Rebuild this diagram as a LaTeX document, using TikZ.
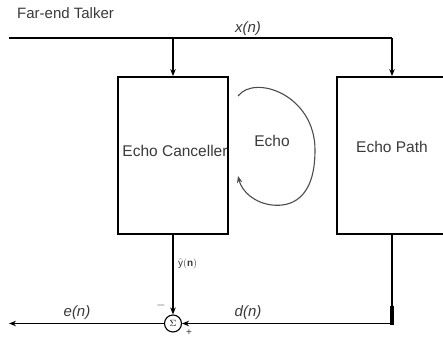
\documentclass[tikz,border=0pt]{standalone}
\usepackage{fontspec}
\setmainfont{Liberation Sans}
\usetikzlibrary{arrows.meta}
\definecolor{txt}{HTML}{3A3A3A}
\begin{document}
\begin{tikzpicture}[x=1pt,y=-1pt,
  >={Stealth[length=7pt,width=5.5pt]},
  wire/.style={line width=1.7pt},
  box/.style={draw, line width=1.8pt, minimum width=110pt, minimum height=157pt, inner sep=0pt},
  boxtext/.style={text=txt, inner sep=0pt, font=\fontsize{15.5}{17}\selectfont},
  lbl/.style={text=txt, font=\fontsize{15}{17}\selectfont\itshape, inner sep=0pt},
  sign/.style={text=txt, inner sep=0pt},
]
\clip (0,0) rectangle (443,337);
\fill[white] (0,0) rectangle (443,337);
\node[text=txt, inner sep=0pt, anchor=west, font=\fontsize{15}{17}\selectfont] (fet) at (17,13) {Far-end Talker};
\coordinate (src) at (9,38);
\coordinate (tap1) at (173,38);
\coordinate (tap2) at (392,38);
\node[box] (ec) at (173,155.5) {};
\node[box] (ep) at (392,155.5) {};
\node[boxtext] (ect) at (175,151) {Echo Canceller};
\node[boxtext] (ept) at (392,147) {Echo Path};
\draw[wire] (src) -- (tap2);
\draw[wire,->] (tap1) -- (ec.north);
\draw[wire,->] (tap2) -- (ep.north);
\node[lbl] (xn) at (248,29) {x(n)};
% summing junction
\node[draw, circle, minimum size=17pt, inner sep=0pt, line width=1.1pt, font=\small] (sum) at (173,323.5) {$\Sigma$};
\draw[wire,->] (ec.south) -- (sum.north);
\coordinate (corner) at (392,323.5);
\coordinate (out) at (9,323.5);
\draw[wire] (ep.south) -- (corner);
\draw[line width=3.2pt] (corner) ++(0,-18) -- ([yshift=-1.2pt]corner);
\draw[wire,->] (corner) -- (sum.east);
\draw[wire,->] (sum.west) -- (out);
\node[lbl] (en) at (77,313) {e(n)};
\node[lbl] (dn) at (248,313) {d(n)};
\node[text=txt, inner sep=0pt, anchor=west] (yh) at (178,264) {$\hat{\mathrm{y}}(\mathbf{n})$};
\node[sign, font=\large] (minus) at (161,305) {$-$};
\node[sign] (plus) at (189,333) {+};
% echo arc
\coordinate (a0) at (238,96);
\coordinate (a2) at (315,150);
\coordinate (a3) at (272,205);
\coordinate (a4) at (238,176);
\draw[line width=1.1pt, black!70, -{Stealth[length=7pt,width=5.5pt]}] (a0) .. controls (255,74) and (315,95) .. (a2) .. controls (315,200) and (290,207) .. (a3) .. controls (255,203) and (242,192) .. (a4);
\node[boxtext] (echo) at (272,141) {Echo};
\end{tikzpicture}
\end{document}
